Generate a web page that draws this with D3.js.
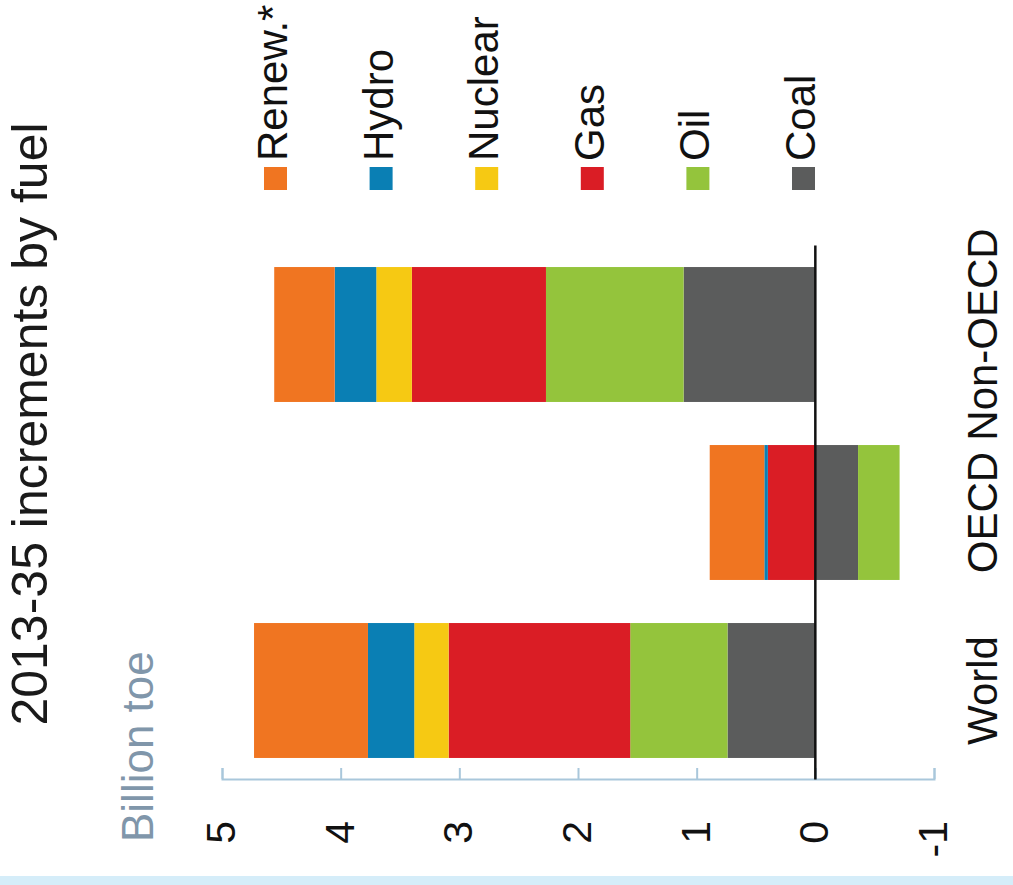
<!DOCTYPE html>
<html>
<head>
<meta charset="utf-8">
<script src="https://cdn.jsdelivr.net/npm/d3@7"></script>
<style>
  html, body { margin: 0; padding: 0; background: #ffffff; }
  svg { display: block; }
  text { font-family: "Liberation Sans", Arial, sans-serif; }
</style>
</head>
<body>
<svg id="chart" width="1013" height="885"></svg>
<script>
// Increments in primary energy demand 2013-35, billion tonnes oil equivalent
const regions = ["Non-OECD", "OECD", "World"];
const fuels = ["Coal", "Oil", "Gas", "Nuclear", "Hydro", "Renew."];
const legendFuels = ["Renew.*", "Hydro", "Nuclear", "Gas", "Oil", "Coal"];
const legendKeys = ["Renew.", "Hydro", "Nuclear", "Gas", "Oil", "Coal"];
const coal    = [1.11, -0.36, 0.74];
const oil     = [1.16, -0.35, 0.82];
const gas     = [1.13,  0.40, 1.53];
const nuclear = [0.30,  0.00, 0.29];
const hydro   = [0.35,  0.03, 0.39];
const renew   = [0.51,  0.46, 0.96];
const tickValues = [5, 4, 3, 2, 1, 0, -1];
const tickLabels = ["5", "4", "3", "2", "1", "0", "-1"];
const fuelColors = ["#5b5c5c", "#94c43c", "#da1d25", "#f6c913", "#0a7fb4", "#f07521"];

const rows = regions.map((r, i) => ({
  region: r,
  "Coal": coal[i], "Oil": oil[i], "Gas": gas[i],
  "Nuclear": nuclear[i], "Hydro": hydro[i], "Renew.": renew[i]
}));

const svg = d3.select("#chart");

// Chart is laid out sideways: values run right-to-left, regions top-to-bottom
const x = d3.scaleLinear().domain([5, -1]).range([222, 934]);
const y = d3.scaleBand().domain(regions).range([245.5, 779.5])
  .paddingInner(0.242).paddingOuter(0.121);
const color = d3.scaleOrdinal().domain(fuels).range(fuelColors);

// Bottom strip
svg.append("rect").attr("x", 0).attr("y", 876).attr("width", 1013).attr("height", 9)
  .attr("fill", "#d5edf9");

// Stacked bars (positives stack away from zero, negatives the other way)
const series = d3.stack().keys(fuels).offset(d3.stackOffsetDiverging)(rows);
svg.append("g").selectAll("g").data(series).join("g")
  .attr("fill", d => color(d.key))
  .selectAll("rect").data(d => d).join("rect")
  .attr("x", d => Math.min(x(d[0]), x(d[1])))
  .attr("width", d => Math.abs(x(d[0]) - x(d[1])))
  .attr("y", d => y(d.data.region))
  .attr("height", y.bandwidth());

// Value axis with ticks pointing toward the bars
const axis = svg.append("g").attr("transform", `translate(0,${y.range()[1] - 0.5})`)
  .call(d3.axisTop(x).tickValues(tickValues).tickSize(11).tickFormat(""));
axis.selectAll("path, line").attr("stroke", "#a9c7db").attr("stroke-width", 2);

// Zero line
svg.append("line")
  .attr("x1", x(0)).attr("x2", x(0))
  .attr("y1", y.range()[0]).attr("y2", y.range()[1])
  .attr("stroke", "#111").attr("stroke-width", 2.5);

// Tick labels (rotated)
svg.append("g").selectAll("text").data(tickValues).join("text")
  .attr("transform", v => `translate(${x(v) + 13},821) rotate(-90)`)
  .attr("text-anchor", "end")
  .attr("font-size", 41)
  .attr("fill", "#111")
  .text((v, i) => tickLabels[i]);

// Region labels
svg.append("g").selectAll("text").data(regions).join("text")
  .attr("transform", r => `translate(997,${y(r) + y.bandwidth() / 2}) rotate(-90)`)
  .attr("text-anchor", "middle")
  .attr("font-size", 42)
  .attr("fill", "#111")
  .text(r => r);

// Title and unit
svg.append("text")
  .attr("transform", "translate(47,424) rotate(-90)")
  .attr("text-anchor", "middle")
  .attr("font-size", 50)
  .attr("fill", "#1a1a1a")
  .text("2013-35 increments by fuel");

svg.append("text")
  .attr("transform", "translate(153,842) rotate(-90)")
  .attr("text-anchor", "start")
  .attr("font-size", 44)
  .attr("fill", "#8096aa")
  .text("Billion toe");

// Legend
const legend = svg.append("g").selectAll("g").data(legendKeys).join("g")
  .attr("transform", (k, i) => `translate(${264 + i * 105.6},0)`);
legend.append("rect")
  .attr("x", 0).attr("y", 167).attr("width", 23).attr("height", 23)
  .attr("fill", k => color(k));
legend.append("text")
  .attr("transform", "translate(23,161) rotate(-90)")
  .attr("text-anchor", "start")
  .attr("font-size", 42)
  .attr("fill", "#111")
  .text((k, i) => legendFuels[i]);
</script>
</body>
</html>
